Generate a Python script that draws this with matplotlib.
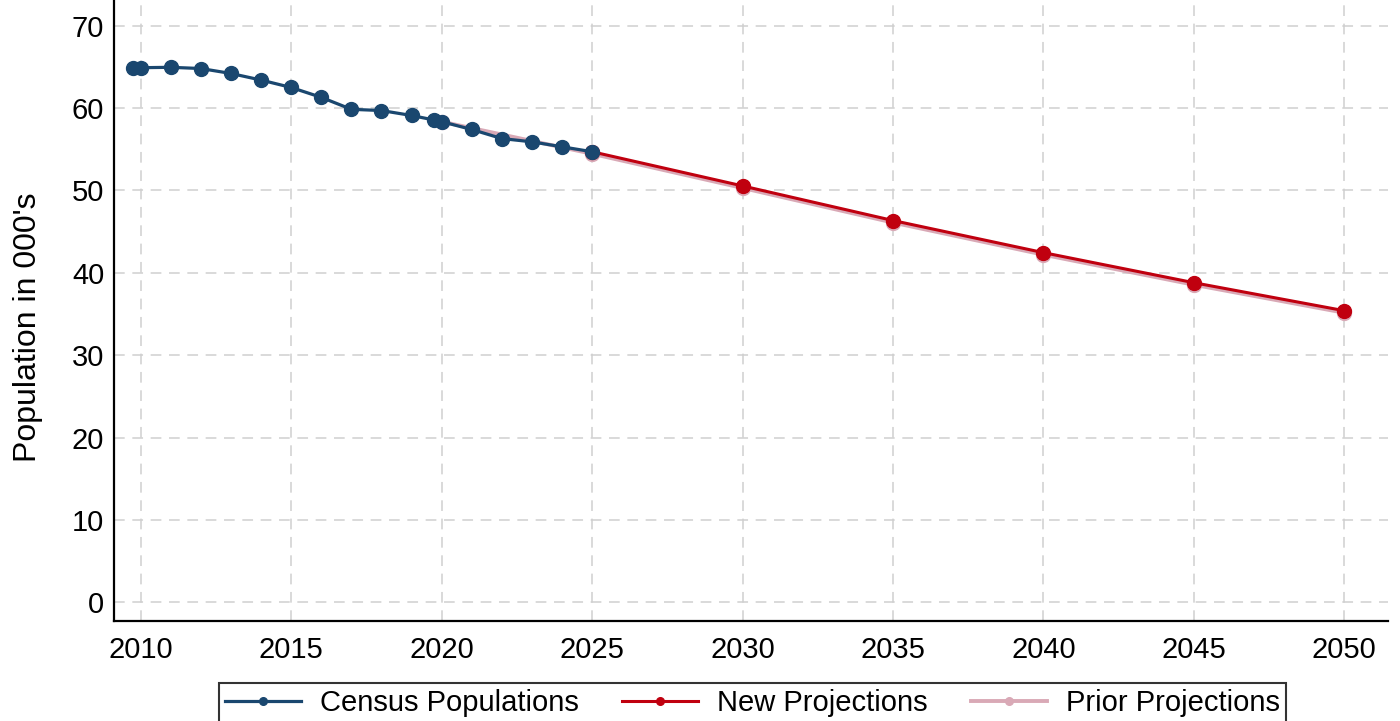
"""County population: census counts vs new and prior projections."""

import matplotlib
matplotlib.use("Agg")
import matplotlib.pyplot as plt

plt.rcParams["font.family"] = ["Liberation Sans", "DejaVu Sans"]

# census / estimate series (two points near 2010 and 2020 are the April census counts)
census_years = [2009.75, 2010, 2011, 2012, 2013, 2014, 2015, 2016, 2017, 2018,
                2019, 2019.75, 2020, 2021, 2022, 2023, 2024, 2025]
census_pop = [64.9, 64.9, 64.95, 64.8, 64.2, 63.4, 62.5, 61.3, 59.85, 59.7,
              59.1, 58.55, 58.35, 57.4, 56.3, 55.9, 55.3, 54.7]

new_years = [2025, 2030, 2035, 2040, 2045, 2050]
new_pop = [54.7, 50.55, 46.35, 42.45, 38.8, 35.4]

prior_years = [2020, 2025, 2030, 2035, 2040, 2045, 2050]
prior_pop = [58.35, 54.45, 50.3, 46.1, 42.2, 38.55, 35.15]

x_ticks = [2010, 2015, 2020, 2025, 2030, 2035, 2040, 2045, 2050]
y_ticks = [0, 10, 20, 30, 40, 50, 60, 70]

BLUE = "#1a476f"
RED = "#c0000f"
PINK = "#d9a9b6"

fig = plt.figure(figsize=(14, 7.21), dpi=100)
ax = fig.add_axes([0.0814, 0.1387, 0.9100, 0.8613])

ax.plot(prior_years, prior_pop, color=PINK, lw=2.8, marker="o", ms=10,
        label="Prior Projections", zorder=3)
ax.plot(new_years, new_pop, color=RED, lw=2.2, marker="o", ms=10,
        label="New Projections", zorder=4)
ax.plot(census_years, census_pop, color=BLUE, lw=2.3, marker="o", ms=10,
        label="Census Populations", zorder=5)

ax.set_xlim(2009.11, 2051.45)
ax.set_ylim(-2.27, 73.12)
ax.set_xticks(x_ticks)
ax.set_yticks(y_ticks)
ax.tick_params(axis="both", length=0, labelsize=21)
ax.tick_params(axis="x", pad=11)
ax.tick_params(axis="y", pad=7)

ax.grid(True, color="#cfcfcf", lw=1.1, ls=(0, (7, 5)))
ax.set_axisbelow(True)
for side in ["top", "right"]:
    ax.spines[side].set_visible(False)
for side in ["left", "bottom"]:
    ax.spines[side].set_linewidth(1.6)
    ax.spines[side].set_color("black")

ax.set_ylabel("Population in 000's", fontsize=23)
ax.yaxis.set_label_coords(-0.056, 0.473)

handles, labels = ax.get_legend_handles_labels()
order = [2, 1, 0]
leg = fig.legend([handles[i] for i in order], [labels[i] for i in order],
                 loc="upper center", bbox_to_anchor=(0.5375, 0.0527), ncol=3,
                 fontsize=21, frameon=True, fancybox=False, edgecolor="black",
                 handlelength=2.6, handletextpad=0.65, columnspacing=1.5,
                 borderpad=0.2, borderaxespad=0, markerscale=0.55)
leg.get_frame().set_linewidth(1.5)

fig.savefig("out.png", dpi=100)
